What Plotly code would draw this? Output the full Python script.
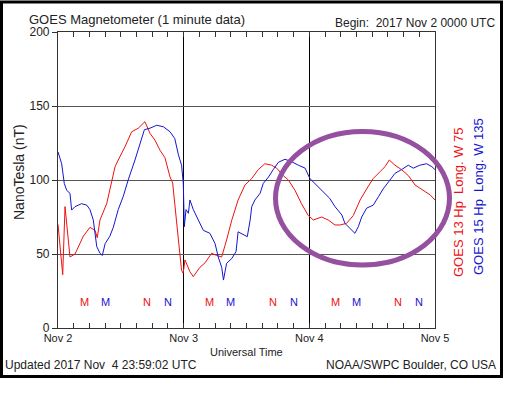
import plotly.graph_objects as go

# ---- data (hours since 2017 Nov 2 00:00 UT, nT) ----
goes13_hours = [0, 0.9, 1.34, 2.29, 3.25, 4.83, 6.1, 7.07, 7.5, 8.02, 9.3, 10.26, 10.9, 11.5,
                12.8, 14.07, 15.34, 16.6, 17.57, 18.5, 19.5, 20.43, 21.4, 21.9, 22.3, 23.0,
                23.6, 23.9, 24.25, 25.2, 25.84, 27.1, 28.07, 29.35, 30.3, 31.26, 32.2, 33.2,
                34.4, 35.7, 37.0, 38.25, 39.5, 40.8, 41.77, 43.0, 44.0, 45.26, 46.5, 47.8,
                48.76, 50.36, 51.6, 52.9, 53.86, 55.1, 56.4, 57.7, 58.95, 60.2, 61.5, 62.45,
                63.27, 64.36, 65.6, 66.9, 68.2, 69.8, 71.05, 72.0]
goes13_nt = [70, 36, 82, 48, 50, 62, 68, 66, 61, 73, 84, 100, 109, 113.5,
             122.5, 132.6, 135, 139.4, 131.5, 127, 120, 115, 102, 98, 82, 59.5,
             39, 37, 46, 38, 34.7, 41, 44, 50.5, 49, 48, 59.5, 73,
             86.5, 96.6, 101, 107, 111, 110, 108, 103, 100, 93, 84, 76,
             73, 75, 73, 69.6, 69.6, 70.7, 76, 86.5, 94, 101, 105.6, 109,
             113.5, 110, 107, 103, 96.6, 93, 90, 86.5]

goes15_hours = [0, 0.7, 1.2, 1.66, 2.29, 2.6, 3.25, 4.5, 5.5, 6.1, 6.74, 7.07, 7.4, 8.02,
                8.46, 9.0, 9.9, 10.56, 11.5, 12.47, 13.4, 14.7, 15.66, 16.5, 17.57, 18.85,
                20.1, 21.4, 22.3, 23.0, 23.6, 23.93, 24.12, 24.45, 24.9, 25.2, 25.84, 26.8,
                27.75, 29.0, 30.0, 30.6, 31.26, 31.6, 32.2, 33.2, 34.0, 34.4, 35.4, 36.15,
                36.7, 37.0, 37.6, 38.6, 39.2, 40.2, 41.1, 42.1, 43.35, 44.6, 45.9, 47.2,
                48.1, 49.4, 50.7, 51.9, 52.9, 54.2, 54.8, 55.8, 56.7, 57.35, 58.0, 58.95,
                60.2, 61.2, 62.1, 63.4, 64.36, 65.6, 66.9, 67.85, 69.1, 70.4, 71.4, 72.0]
goes15_nt = [119, 111, 97.7, 93, 91, 79.7, 82, 84, 83, 80, 73, 64, 55, 50.5,
             49, 57, 62, 68, 80, 89, 100, 113.5, 125, 134, 135, 137,
             136, 132.6, 128, 117, 110, 97.7, 68.4, 80, 77.5, 86.5, 80, 73,
             66, 64, 57, 48, 41, 32.4, 43.7, 47, 51.6, 65, 62.8, 61.7,
             73, 82, 86.5, 91, 97.7, 102, 107, 112, 114, 112.4, 110, 108,
             101, 96.6, 92, 87.6, 82, 76.4, 70.7, 67, 64, 68.4, 75, 81,
             83, 88.7, 94, 100, 104.5, 107, 110, 108, 110, 111, 109, 107]

day_ticks = [0, 24, 48, 72]
day_labels = ["Nov 2", "Nov 3", "Nov 4", "Nov 5"]
y_ticks = [0, 50, 100, 150, 200]
midnight13 = [5, 29, 53]
noon13 = [17, 41, 65]
midnight15 = [9, 33, 57]
noon15 = [21, 45, 69]
letter_level = 17.5

RED = "#ee1111"
BLUE = "#1515d0"

# ---- layout geometry (window pixels) ----
W, H = 517, 393
L, R, T, B = 58, 435, 32, 328  # plot area


def px(x):
    return (x - L) / (R - L)


def py(y):
    return (B - y) / (B - T)


fig = go.Figure()
fig.add_trace(go.Scatter(x=goes13_hours, y=goes13_nt, mode="lines",
                         line=dict(color=RED, width=1), showlegend=False))
fig.add_trace(go.Scatter(x=goes15_hours, y=goes15_nt, mode="lines",
                         line=dict(color=BLUE, width=1), showlegend=False))

FONT = "Liberation Sans, Arial, sans-serif"
TXT = "#222222"

ann = []
for h in midnight13:
    ann.append(dict(x=h, y=letter_level, xref="x", yref="y", text="M", showarrow=False,
                    font=dict(color=RED, size=11, family=FONT)))
for h in noon13:
    ann.append(dict(x=h, y=letter_level, xref="x", yref="y", text="N", showarrow=False,
                    font=dict(color=RED, size=11, family=FONT)))
for h in midnight15:
    ann.append(dict(x=h, y=letter_level, xref="x", yref="y", text="M", showarrow=False,
                    font=dict(color=BLUE, size=11, family=FONT)))
for h in noon15:
    ann.append(dict(x=h, y=letter_level, xref="x", yref="y", text="N", showarrow=False,
                    font=dict(color=BLUE, size=11, family=FONT)))

ann += [
    dict(x=px(27), y=py(19), xref="paper", yref="paper", xanchor="left", yanchor="middle",
         text="GOES Magnetometer (1 minute data)", showarrow=False,
         font=dict(size=13, color=TXT, family=FONT)),
    dict(x=px(497), y=py(23), xref="paper", yref="paper", xanchor="right", yanchor="middle",
         text="Begin:  2017 Nov 2 0000 UTC", showarrow=False,
         font=dict(size=12, color=TXT, family=FONT)),
    dict(x=px(19), y=py(172), xref="paper", yref="paper", xanchor="center", yanchor="middle",
         text="NanoTesla (nT)", textangle=-90, showarrow=False,
         font=dict(size=14, color=TXT, family=FONT)),
    dict(x=px(246), y=py(352), xref="paper", yref="paper", xanchor="center", yanchor="middle",
         text="Universal Time", showarrow=False,
         font=dict(size=11, color=TXT, family=FONT)),
    dict(x=px(3), y=py(365), xref="paper", yref="paper", xanchor="left", yanchor="middle",
         text="Updated 2017 Nov  4 23:59:02 UTC", showarrow=False,
         font=dict(size=12, color=TXT, family=FONT)),
    dict(x=px(498), y=py(365), xref="paper", yref="paper", xanchor="right", yanchor="middle",
         text="NOAA/SWPC Boulder, CO USA", showarrow=False,
         font=dict(size=12, color=TXT, family=FONT)),
    dict(x=px(458), y=py(202), xref="paper", yref="paper", xanchor="center", yanchor="middle",
         text="GOES 13 Hp  Long. W 75", textangle=-90, showarrow=False,
         font=dict(size=13, color=RED, family=FONT)),
    dict(x=px(478), y=py(197), xref="paper", yref="paper", xanchor="center", yanchor="middle",
         text="GOES 15 Hp  Long. W 135", textangle=-90, showarrow=False,
         font=dict(size=13, color=BLUE, family=FONT)),
]

shapes = [
    # purple highlight ellipse
    dict(type="circle", xref="paper", yref="paper",
         x0=px(275.5), x1=px(449.5), y0=py(265), y1=py(131.5),
         line=dict(color="#9550a0", width=5)),
    # black picture frame
    dict(type="rect", xref="paper", yref="paper",
         x0=px(1.5), x1=px(501.5), y0=py(376.5), y1=py(2),
         line=dict(color="black", width=3)),
]

fig.update_layout(
    width=W, height=H,
    margin=dict(l=L, r=W - R, t=T, b=H - B),
    paper_bgcolor="white", plot_bgcolor="white",
    showlegend=False,
    annotations=ann, shapes=shapes,
    font=dict(family=FONT, color=TXT),
)

fig.update_xaxes(
    range=[0, 72], tickvals=day_ticks, ticktext=day_labels,
    ticks="inside", ticklen=5, tickcolor="#333",
    showgrid=True, gridcolor="black", gridwidth=1.2,
    showline=True, linecolor="#333", linewidth=1.2, mirror="allticks",
    zeroline=False,
    minor=dict(dtick=3, ticks="inside", ticklen=5, tickcolor="#333", showgrid=False),
    tickfont=dict(size=11, color=TXT, family=FONT),
)
fig.update_yaxes(
    range=[0, 200], tickvals=y_ticks,
    ticks="outside", ticklen=5, tickcolor="#333",
    showgrid=True, gridcolor="#555555", gridwidth=1.2,
    showline=True, linecolor="#333", linewidth=1.2, mirror=True,
    zeroline=False,
    tickfont=dict(size=12, color=TXT, family=FONT),
)

fig.write_html("out.html",
               config={"displayModeBar": False},
               post_script="document.body.style.margin='0';document.body.style.overflow='hidden';")
